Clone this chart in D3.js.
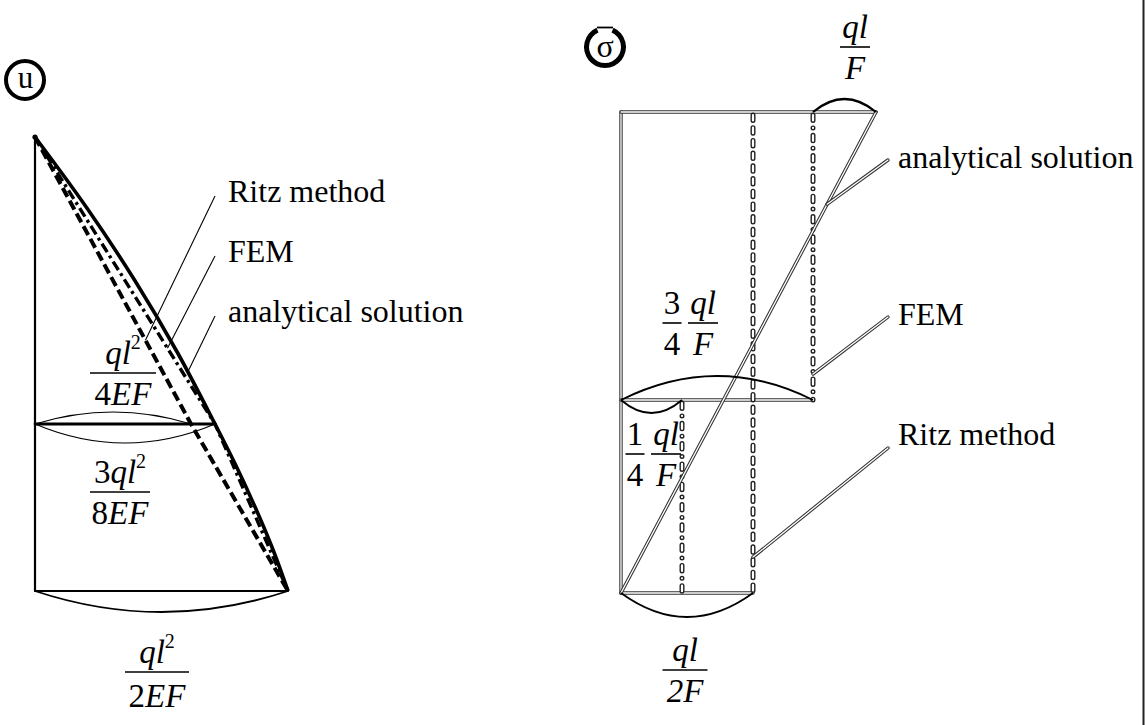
<!DOCTYPE html>
<html>
<head>
<meta charset="utf-8">
<script src="https://cdn.jsdelivr.net/npm/d3@7"></script>
<style>
  html, body { margin: 0; padding: 0; background: #fff; }
  svg { display: block; }
  text { font-family: "Liberation Serif", "Times New Roman", serif; fill: #000; }
</style>
</head>
<body>
<svg id="chart" width="1146" height="725"></svg>
<script>
// ---------- displacement diagram u(x), units ql²/EF ----------
const uXi       = [0, 0.5, 1];            // section position x/l
const uRitz     = [0, 0.25, 0.5];         // linear trial function
const uFem      = [0, 0.375, 0.5];        // two linear elements
const uExactXi  = [0, 0.125, 0.25, 0.375, 0.5, 0.625, 0.75, 0.875, 1];
const uExact    = [0, 0.084, 0.160, 0.228, 0.375, 0.411, 0.444, 0.474, 0.5];
const uLabels   = ["Ritz method", "FEM", "analytical solution"];
const uLeaderXi = [0.354, 0.368, 0.409];  // where each leader touches its curve

// ---------- stress diagram σ(x), units ql/F ----------
const sXi        = [0, 1];
const sExact     = [1, 0];                // linear from ql/F to zero
const sFemXi     = [[0, 0.5], [0.5, 1]];
const sFem       = [0.75, 0.25];          // constant stress per element
const sRitzXi    = [0, 1];
const sRitz      = 0.5;                   // constant stress
const sLabels    = ["analytical solution", "FEM", "Ritz method"];
const sLeaderXi  = [0.160, 0.455, 0.907];

const svg = d3.select("#chart");

// scales of the two schematic diagrams
const uX = d3.scaleLinear().domain([0, 0.25, 0.375, 0.5]).range([35, 191, 215, 288]);
const uY = d3.scaleLinear().domain([0, 0.5, 1]).range([137, 424, 591]);
const sX = d3.scaleLinear().domain([0, 0.25, 0.5, 0.75, 1]).range([621, 682, 753, 813, 876]);
const sY = d3.scaleLinear().domain([0, 0.5, 1]).range([112, 400, 593]);

const ink = "#000", outline = "#333";

function seg(g, x1, y1, x2, y2, w) {
  return g.append("line").attr("x1", x1).attr("y1", y1).attr("x2", x2).attr("y2", y2)
    .attr("stroke", ink).attr("stroke-width", w).attr("stroke-linecap", "round");
}
// hollow "double" stroke; returns the outer path
function dbl(g, d, opt) {
  opt = opt || {};
  const wo = opt.wo || 3.4, wi = opt.wi || 1.3;
  const a = g.append("path").attr("d", d).attr("fill", "none").attr("stroke", opt.col || outline)
    .attr("stroke-width", wo).attr("stroke-linecap", "round");
  const b = g.append("path").attr("d", d).attr("fill", "none").attr("stroke", "#fff")
    .attr("stroke-width", wi).attr("stroke-linecap", "round");
  if (opt.dash) { a.attr("stroke-dasharray", opt.dash); b.attr("stroke-dasharray", opt.dash); }
  return a;
}
const lineD = d3.line();
function arcD(x0, x1, y, sag) {
  const p = d3.path();
  p.moveTo(x0, y);
  p.quadraticCurveTo((x0 + x1) / 2, y + 2 * sag, x1, y);
  return p.toString();
}
function arc(g, x0, x1, y, sag, w) {
  g.append("path").attr("d", arcD(x0, x1, y, sag)).attr("fill", "none")
    .attr("stroke", ink).attr("stroke-width", w);
}
// fraction label: parts are [text, style] with style "i" italic, "n" upright, "s" superscript
function parts(t, list) {
  list.forEach(([s, st]) => {
    const ts = t.append("tspan").text(s);
    if (st === "i") ts.attr("font-style", "italic");
    if (st === "s") ts.attr("font-size", 20).attr("dy", -15);
  });
}
function frac(g, cx, barY, halfW, num, den, denGap) {
  g.append("line").attr("x1", cx - halfW).attr("x2", cx + halfW).attr("y1", barY).attr("y2", barY)
    .attr("stroke", ink).attr("stroke-width", 1.6);
  parts(g.append("text").attr("x", cx).attr("y", barY - 9).attr("text-anchor", "middle").attr("font-size", 33), num);
  parts(g.append("text").attr("x", cx).attr("y", barY + (denGap || 32)).attr("text-anchor", "middle").attr("font-size", 33), den);
}
// point of a y-monotone path at a given height
function pointAtY(node, y) {
  let lo = 0, hi = node.getTotalLength();
  const down = node.getPointAtLength(hi).y > node.getPointAtLength(0).y;
  for (let i = 0; i < 40; i++) {
    const mid = (lo + hi) / 2;
    const py = node.getPointAtLength(mid).y;
    if ((py < y) === down) lo = mid; else hi = mid;
  }
  return node.getPointAtLength((lo + hi) / 2);
}

// ================= displacement panel =================
const gu = svg.append("g");

// panel badge
gu.append("circle").attr("cx", 25).attr("cy", 80).attr("r", 19)
  .attr("fill", "none").attr("stroke", ink).attr("stroke-width", 4);
gu.append("text").attr("x", 25.5).attr("y", 88).attr("text-anchor", "middle")
  .attr("font-size", 31).text("u");

// bar axis and section lines
seg(gu, uX(0), uY(0), uX(0), uY(1), 2.2);
seg(gu, uX(0), uY(uXi[1]), uX(uFem[1]), uY(uXi[1]), 2.8);
seg(gu, uX(0), uY(uXi[2]), uX(uFem[2]), uY(uXi[2]), 2.2);

// dimension arcs
arc(gu, uX(0), uX(uRitz[1]), uY(uXi[1]), -12, 1.1);
arc(gu, uX(0), uX(uFem[1]), uY(uXi[1]), 19, 1.1);
arc(gu, uX(0), uX(uFem[2]), uY(uXi[2]), 21, 1.8);

// solutions
const lineU = d3.line().x(d => uX(d[1])).y(d => uY(d[0]));
const ritzPath = gu.append("path").attr("d", lineU(d3.zip(uXi, uRitz)))
  .attr("fill", "none").attr("stroke", ink).attr("stroke-width", 4)
  .attr("stroke-dasharray", "10 4.5");
const femPath = gu.append("path").attr("d", lineU(d3.zip(uXi, uFem)))
  .attr("fill", "none").attr("stroke", ink).attr("stroke-width", 3.4)
  .attr("stroke-dasharray", "10 4 3 4");
const exactPath = gu.append("path")
  .attr("d", d3.line().x(d => uX(d[1])).y(d => uY(d[0]))
    .curve(d3.curveCatmullRom.alpha(0.5))(d3.zip(uExactXi, uExact)))
  .attr("fill", "none").attr("stroke", ink).attr("stroke-width", 3.6);
gu.append("circle").attr("cx", uX(0)).attr("cy", uY(0)).attr("r", 2.6).attr("fill", ink);

// leaders and legend texts
const uPaths = [ritzPath, femPath, exactPath];
const uTextY = [202, 262, 322];
uLabels.forEach((lab, i) => {
  const p = pointAtY(uPaths[i].node(), uY(uLeaderXi[i]));
  gu.append("line").attr("x1", p.x).attr("y1", p.y).attr("x2", 215).attr("y2", uTextY[i] - 6)
    .attr("stroke", ink).attr("stroke-width", 1.1);
  gu.append("text").attr("x", 228).attr("y", uTextY[i]).attr("font-size", 32).text(lab);
});

// value labels
frac(gu, 123, 373, 33, [["q", "i"], ["l", "i"], ["2", "s"]], [["4", "n"], ["EF", "i"]]);
frac(gu, 120, 492, 30, [["3", "n"], ["q", "i"], ["l", "i"], ["2", "s"]], [["8", "n"], ["EF", "i"]]);
frac(gu, 157, 672, 32, [["q", "i"], ["l", "i"], ["2", "s"]], [["2", "n"], ["EF", "i"]], 35);

// ================= stress panel =================
const gs = svg.append("g");

// panel badge (ring opened at the top, bar over σ)
gs.append("path")
  .attr("d", d3.arc().innerRadius(16).outerRadius(21)
    .startAngle(24 * Math.PI / 180).endAngle(336 * Math.PI / 180)())
  .attr("transform", "translate(605,47)").attr("fill", ink);
gs.append("line").attr("x1", 597).attr("x2", 613).attr("y1", 27.5).attr("y2", 27.5)
  .attr("stroke", ink).attr("stroke-width", 1.8);
gs.append("text").attr("x", 605).attr("y", 57).attr("text-anchor", "middle")
  .attr("font-size", 32).text("σ");

// outline of the diagram
dbl(gs, lineD([[sX(0), sY(0)], [sX(0), sY(1)]]));
dbl(gs, lineD([[sX(0), sY(0)], [sX(sExact[0]), sY(0)]]));
dbl(gs, lineD([[sX(0), sY(0.5)], [sX(sFem[0]), sY(0.5)]]));
dbl(gs, lineD([[sX(0), sY(1)], [sX(sRitz), sY(1)]]));

// Ritz: constant stress, hollow dashes
const ritzCol = dbl(gs, lineD([[sX(sRitz), sY(sRitzXi[0]) + 3], [sX(sRitz), sY(sRitzXi[1])]]),
  { wo: 5, wi: 2.2, dash: "5.5 7.2", col: "#222" });
// FEM: element-wise constant stress, hollow dash-dot
const femCols = sFem.map((v, i) =>
  dbl(gs, lineD([[sX(v), sY(sFemXi[i][0]) + 3], [sX(v), sY(sFemXi[i][1])]]),
    { wo: 5, wi: 2.2, dash: "5.5 7.4 0 7.4", col: "#222" }));
// analytical: linear stress
const exactLine = dbl(gs, lineD(d3.zip(sXi, sExact).map(d => [sX(d[1]), sY(d[0])])));

// dimension arcs
arc(gs, sX(sFem[0]), sX(sExact[0]), sY(0), -13, 2.2);
arc(gs, sX(0), sX(sFem[0]), sY(0.5), -24, 1.8);
arc(gs, sX(0), sX(sFem[1]), sY(0.5), 13, 1.8);
arc(gs, sX(0), sX(sRitz), sY(1), 24, 1.8);

// leaders and legend texts
const sTextY = [168, 325, 445];
const sLeaderEnd = [160, 317, 448];
const sTargets = [exactLine, femCols[0], ritzCol];
sLabels.forEach((lab, i) => {
  const p = pointAtY(sTargets[i].node(), sY(sLeaderXi[i]));
  dbl(gs, lineD([[p.x, p.y], [888, sLeaderEnd[i]]]));
  gs.append("text").attr("x", 898).attr("y", sTextY[i]).attr("font-size", 32).text(lab);
});

// value labels
frac(gs, 855, 47, 15, [["ql", "i"]], [["F", "i"]]);
frac(gs, 672, 323, 9.5, [["3", "n"]], [["4", "n"]]);
frac(gs, 703, 323, 15, [["ql", "i"]], [["F", "i"]]);
frac(gs, 635, 454, 9.5, [["1", "n"]], [["4", "n"]]);
frac(gs, 666, 454, 15, [["ql", "i"]], [["F", "i"]]);
frac(gs, 685, 670, 22.5, [["ql", "i"]], [["2F", "i"]]);

// frame edge
svg.append("line").attr("x1", 1143.5).attr("x2", 1143.5).attr("y1", 0).attr("y2", 725)
  .attr("stroke", "#222").attr("stroke-width", 2);
</script>
</body>
</html>
